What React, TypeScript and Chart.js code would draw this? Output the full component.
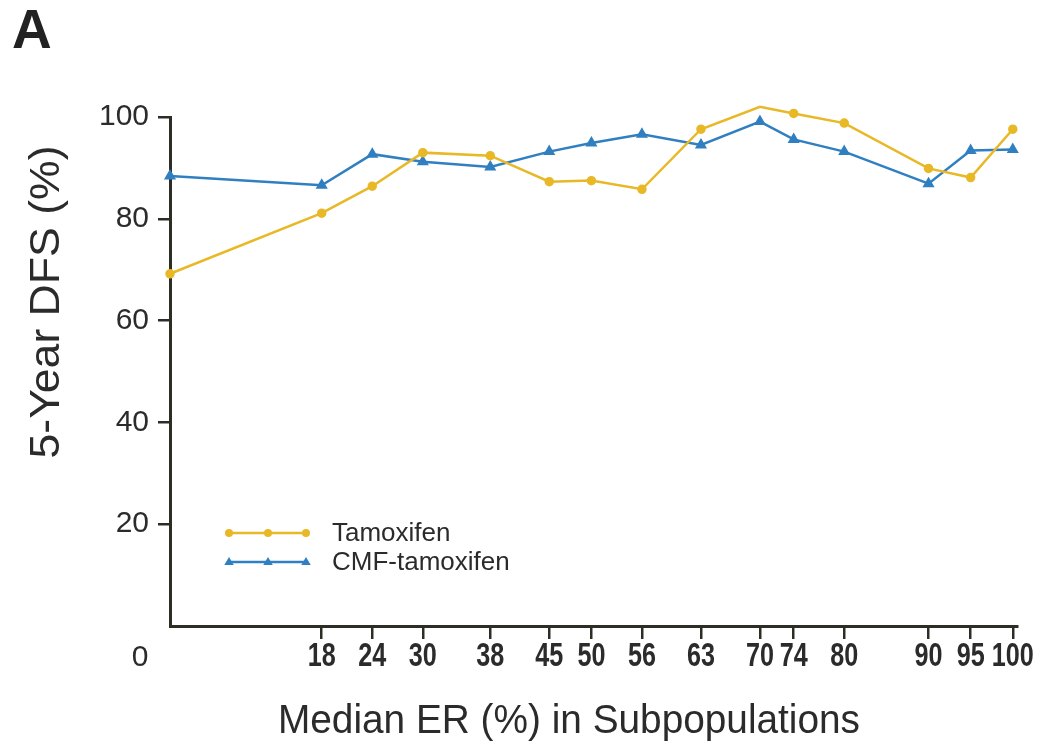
import React, { useEffect, useRef } from "react";
import { Chart, registerables } from "chart.js";

Chart.register(...registerables);

// Median ER (%) of each subpopulation and 5-year DFS (%) per treatment arm
const erMedians = [0, 18, 24, 30, 38, 45, 50, 56, 63, 70, 74, 80, 90, 95, 100];
const tamoxifenDfs = [69.2, 81.1, 86.4, 93.0, 92.4, 87.3, 87.5, 85.8, 97.6, 102.0, 100.7, 98.8, 89.9, 88.1, 97.6];
const cmfTamoxifenDfs = [88.4, 86.6, 92.7, 91.2, 90.2, 93.2, 94.9, 96.6, 94.5, 99.1, 95.6, 93.2, 86.9, 93.4, 93.6];

const xTickValues = [18, 24, 30, 38, 45, 50, 56, 63, 70, 74, 80, 90, 95, 100];
const yTickValues = [20, 40, 60, 80, 100];
const seriesNames = ["Tamoxifen", "CMF-tamoxifen"];
const seriesColors = ["#e8b826", "#2f7fc1"];

const INK = "#2b2b2b";
const AXIS = "#2d2d26";

function drawScaled(ctx: CanvasRenderingContext2D, text: string, cx: number, cy: number, sx: number) {
  ctx.save();
  ctx.translate(cx, cy);
  ctx.scale(sx, 1);
  ctx.fillText(text, 0, 0);
  ctx.restore();
}

function fitText(ctx: CanvasRenderingContext2D, text: string, cx: number, cy: number, width: number) {
  const w = ctx.measureText(text).width;
  drawScaled(ctx, text, cx, cy, width / w);
}

function drawMarker(ctx: CanvasRenderingContext2D, style: string, x: number, y: number, r: number, color: string) {
  ctx.fillStyle = color;
  ctx.beginPath();
  if (style === "triangle") {
    ctx.moveTo(x, y - r);
    ctx.lineTo(x + r * 0.95, y + r * 0.6);
    ctx.lineTo(x - r * 0.95, y + r * 0.6);
    ctx.closePath();
  } else {
    ctx.arc(x, y, r, 0, Math.PI * 2);
  }
  ctx.fill();
}

const decorations = {
  id: "decorations",
  afterDraw(chart: any) {
    const { ctx, chartArea, scales } = chart;
    const x = scales.x;
    ctx.save();
    ctx.fillStyle = INK;
    ctx.textAlign = "center";
    ctx.textBaseline = "middle";

    // condensed x tick labels
    ctx.font = 'bold 34px "Liberation Sans Narrow", "Liberation Sans", sans-serif';
    for (const v of xTickValues) {
      drawScaled(ctx, String(v), x.getPixelForValue(v), chartArea.bottom + 31, 0.74);
    }

    // shared origin label
    ctx.font = '30px "Liberation Sans", sans-serif';
    ctx.fillText("0", chartArea.left - 30, chartArea.bottom + 32);

    // x axis title
    ctx.font = '41px "Liberation Sans Narrow", "Liberation Sans", sans-serif';
    fitText(ctx, "Median ER (%) in Subpopulations", 569, 722, 582);

    // y axis title
    ctx.save();
    ctx.translate(47, 302);
    ctx.rotate(-Math.PI / 2);
    ctx.font = '43px "Liberation Sans", sans-serif';
    fitText(ctx, "5-Year DFS (%)", 0, 0, 313);
    ctx.restore();

    // panel letter
    ctx.textAlign = "left";
    ctx.textBaseline = "alphabetic";
    ctx.fillStyle = "#222";
    ctx.font = 'bold 55px "Liberation Sans", sans-serif';
    ctx.fillText("A", 12, 48);

    // legend
    const styles = ["circle", "triangle"];
    const rows = [533, 562];
    rows.forEach((ly, i) => {
      ctx.strokeStyle = seriesColors[i];
      ctx.lineWidth = 2.5;
      ctx.beginPath();
      ctx.moveTo(228, ly);
      ctx.lineTo(308, ly);
      ctx.stroke();
      [229, 268, 306].forEach((mx) => drawMarker(ctx, styles[i], mx, ly, i === 0 ? 4 : 5, seriesColors[i]));
      ctx.fillStyle = INK;
      ctx.font = '26px "Liberation Sans", sans-serif';
      ctx.textBaseline = "middle";
      ctx.fillText(seriesNames[i], 332, ly + 1);
    });
    ctx.restore();
  },
};

export default function App() {
  const canvasRef = useRef<HTMLCanvasElement | null>(null);

  useEffect(() => {
    if (!canvasRef.current) return;
    const toPoints = (ys: number[]) => erMedians.map((v, i) => ({ x: v, y: ys[i] }));
    const chart = new Chart(canvasRef.current, {
      type: "line",
      data: {
        datasets: [
          {
            label: seriesNames[0],
            data: toPoints(tamoxifenDfs),
            borderColor: seriesColors[0],
            backgroundColor: seriesColors[0],
            pointBackgroundColor: seriesColors[0],
            pointBorderColor: seriesColors[0],
            pointStyle: "circle",
            pointRadius: 3.5,
            borderWidth: 2.5,
            tension: 0,
            clip: false,
          },
          {
            label: seriesNames[1],
            data: toPoints(cmfTamoxifenDfs),
            borderColor: seriesColors[1],
            backgroundColor: seriesColors[1],
            pointBackgroundColor: seriesColors[1],
            pointBorderColor: seriesColors[1],
            pointStyle: "triangle",
            pointRadius: 4.5,
            borderWidth: 2.5,
            tension: 0,
            clip: false,
          },
        ],
      },
      options: {
        responsive: false,
        animation: false,
        devicePixelRatio: 1,
        layout: { padding: { top: 117, right: 21, left: 0, bottom: 0 } },
        plugins: { legend: { display: false }, tooltip: { enabled: false } },
        scales: {
          x: {
            type: "linear",
            min: 0,
            max: 100.5,
            afterBuildTicks: (scale: any) => {
              scale.ticks = xTickValues.map((v) => ({ value: v }));
            },
            afterFit: (scale: any) => {
              scale.height = 120;
            },
            ticks: { display: false },
            grid: {
              drawOnChartArea: false,
              drawTicks: true,
              tickLength: 13,
              color: AXIS,
              lineWidth: 2.5,
            },
            border: { display: true, color: AXIS, width: 3 },
          },
          y: {
            type: "linear",
            min: 0,
            max: 100,
            afterBuildTicks: (scale: any) => {
              scale.ticks = yTickValues.map((v) => ({ value: v }));
            },
            afterFit: (scale: any) => {
              scale.width = 170;
            },
            ticks: {
              color: INK,
              padding: 9,
              font: { family: '"Liberation Sans", sans-serif', size: 30 },
            },
            grid: {
              drawOnChartArea: false,
              drawTicks: true,
              tickLength: 12,
              color: AXIS,
              lineWidth: 2.5,
            },
            border: { display: true, color: AXIS, width: 3 },
          },
        },
      },
      plugins: [decorations],
    });
    return () => chart.destroy();
  }, []);

  return (
    <div style={{ position: "absolute", left: 0, top: 0, width: 1038, height: 746, background: "#fff" }}>
      <canvas ref={canvasRef} width={1038} height={746} />
    </div>
  );
}
